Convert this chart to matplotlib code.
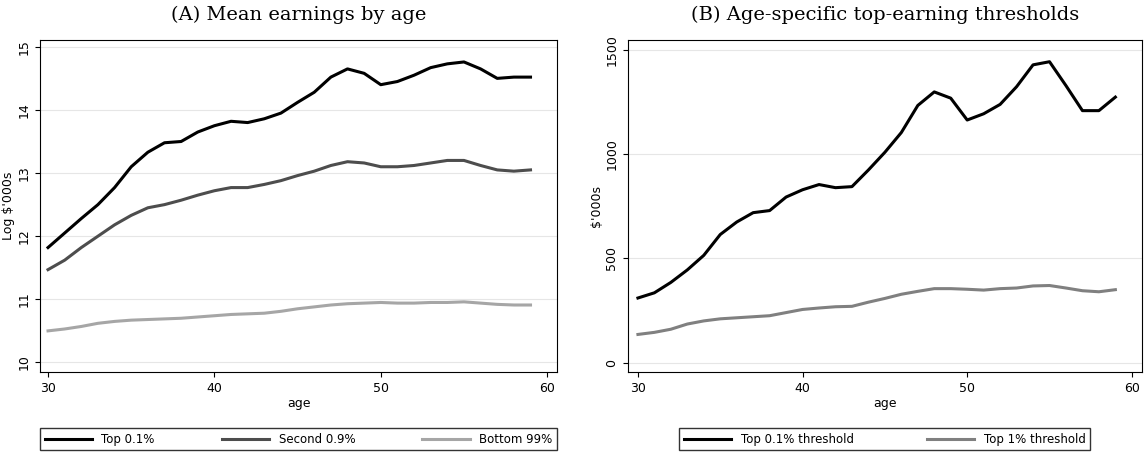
import matplotlib.pyplot as plt
import numpy as np

ages = np.arange(30, 60)
top01 = [11.82, 12.05, 12.28, 12.5, 12.77, 13.1, 13.33, 13.48, 13.5, 13.65, 13.75, 13.82, 13.8, 13.86, 13.95,
         14.12, 14.28, 14.52, 14.65, 14.58, 14.4, 14.45, 14.55, 14.67, 14.73, 14.76, 14.65, 14.5, 14.52, 14.52]
second09 = [11.47, 11.62, 11.82, 12.0, 12.18, 12.33, 12.45, 12.5, 12.57, 12.65, 12.72, 12.77, 12.77, 12.82, 12.88,
            12.96, 13.03, 13.12, 13.18, 13.16, 13.1, 13.1, 13.12, 13.16, 13.2, 13.2, 13.12, 13.05, 13.03, 13.05]
bottom99 = [10.5, 10.53, 10.57, 10.62, 10.65, 10.67, 10.68, 10.69, 10.7, 10.72, 10.74, 10.76, 10.77, 10.78, 10.81,
            10.85, 10.88, 10.91, 10.93, 10.94, 10.95, 10.94, 10.94, 10.95, 10.95, 10.96, 10.94, 10.92, 10.91, 10.91]
thr01 = [310, 335, 385, 445, 515, 615, 675, 720, 730, 795, 830, 855, 840, 845, 925,
         1010, 1105, 1235, 1300, 1270, 1165, 1195, 1240, 1325, 1430, 1445, 1330, 1210, 1210, 1275]
thr1 = [135, 145, 160, 185, 200, 210, 215, 220, 225, 240, 255, 262, 268, 270, 290,
        308, 328, 342, 355, 355, 352, 348, 355, 358, 368, 370, 358, 345, 340, 350]

fig = plt.figure(figsize=(11.44, 4.53), dpi=100)
axA = fig.add_axes([0.035, 0.179, 0.452, 0.733])
axB = fig.add_axes([0.549, 0.179, 0.449, 0.733])

axA.plot(ages, top01, color="black", lw=2.2, label="Top 0.1%")
axA.plot(ages, second09, color="#4d4d4d", lw=2.2, label="Second 0.9%")
axA.plot(ages, bottom99, color="#a6a6a6", lw=2.2, label="Bottom 99%")
axA.set_ylim(9.85, 15.11)
axA.set_yticks([10, 11, 12, 13, 14, 15])
axA.set_ylabel("Log $'000s", fontsize=9, labelpad=2)
axA.set_title("(A) Mean earnings by age", fontsize=14, family="DejaVu Serif", pad=14)

axB.plot(ages, thr01, color="black", lw=2.2, label="Top 0.1% threshold")
axB.plot(ages, thr1, color="#808080", lw=2.2, label="Top 1% threshold")
axB.set_ylim(-45, 1550)
axB.set_yticks([0, 500, 1000, 1500])
axB.set_ylabel("$'000s", fontsize=9, labelpad=2)
axB.set_title("(B) Age-specific top-earning thresholds", fontsize=14, family="DejaVu Serif", pad=14)

for ax, lx, box in ((axA, 29.52, (0.0, 1.0)), (axB, 29.4, (0.1, 0.8))):
    ax.set_xlim(lx, 60.6)
    ax.set_xticks([30, 40, 50, 60])
    ax.set_xlabel("age", fontsize=9, labelpad=2)
    ax.grid(True, axis="y", color="#e6e6e6", lw=0.8)
    ax.set_axisbelow(True)
    ax.tick_params(labelsize=9)
    for lab in ax.get_yticklabels():
        lab.set_rotation(90)
        lab.set_va("center")
    ax.legend(loc="upper left", bbox_to_anchor=(box[0], -0.219, box[1], 0.05), mode="expand",
              ncol=3 if ax is axA else 2, fontsize=8.5, frameon=True, fancybox=False,
              edgecolor="black", handlelength=4, borderaxespad=0)

fig.savefig("out.png", dpi=100)
